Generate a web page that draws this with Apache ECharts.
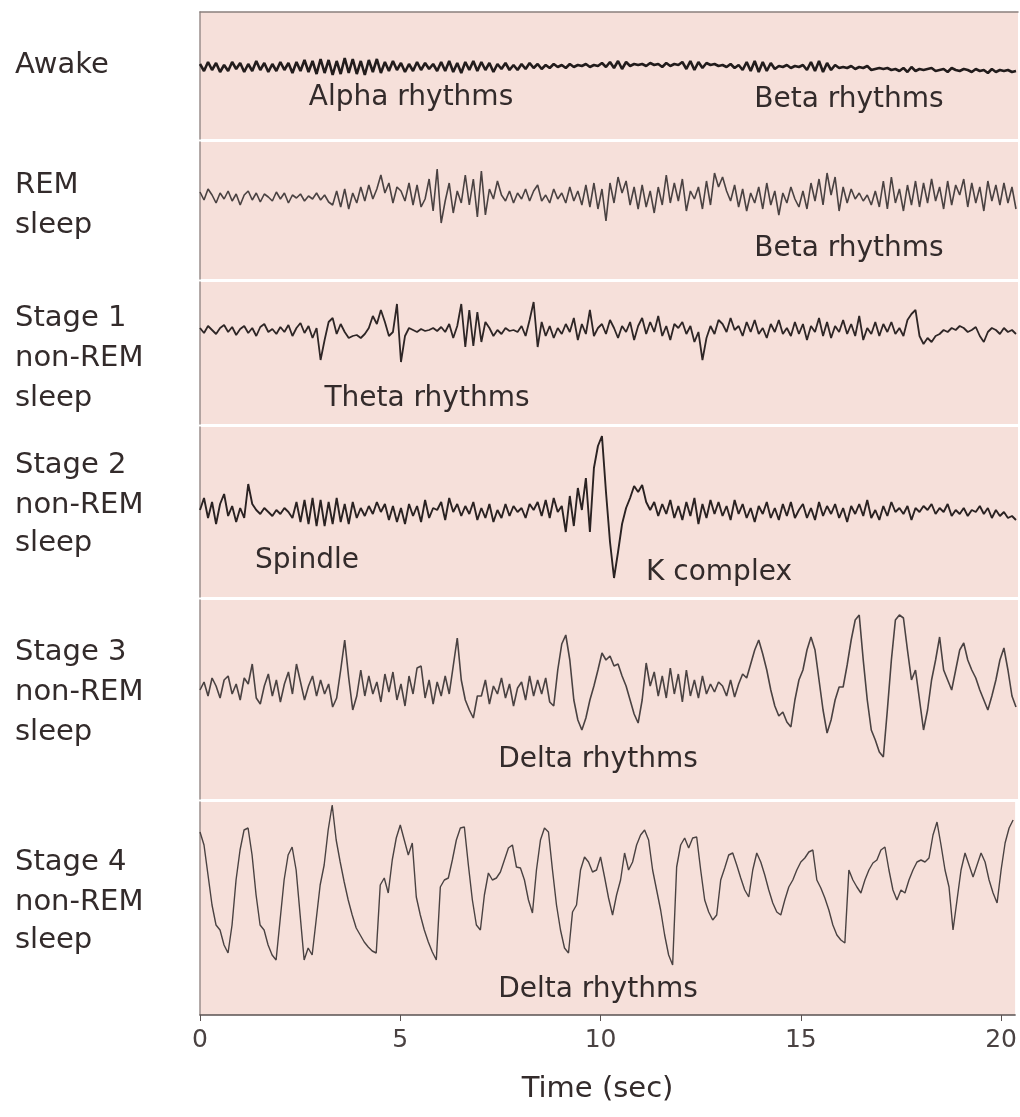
<!DOCTYPE html>
<html><head><meta charset="utf-8">
<script src="https://cdn.jsdelivr.net/npm/echarts@6/dist/echarts.min.js"></script>
<style>html,body{margin:0;padding:0;background:#fff}#c{width:1020px;height:1117px}</style>
</head><body><div id="c"></div>
<script>
// sampling step of the traces (seconds)
const DT = 0.1;
const xTicks = [0, 5, 10, 15, 20];

// EEG traces, amplitude (arbitrary units, + is up)
const awake = [
 3,-4,5,-3,4,-5,2,-4,5,-2,
 4,-5,3,-4,6,-3,4,-5,3,-4,
 5,-3,4,-6,5,-4,7,-5,6,-7,
 8,-6,7,-8,6,-7,9,-6,8,-7,
 6,-8,7,-5,8,-6,5,-4,6,-3,
 4,-5,3,-4,5,-3,4,-2,3,-4,
 5,-4,6,-5,4,-6,5,-3,6,-4,
 5,-3,4,-5,3,-2,4,-3,2,-3,
 3,-2,4,-1,3,-2,2,-1,3,0,
 2,-1,3,0,2,1,3,0,2,1,
 4,0,5,-1,6,-2,5,1,3,2,
 3,1,4,2,3,0,4,1,3,2,
 5,-2,6,-3,5,-1,4,2,3,1,
 2,0,3,-1,2,-3,5,-4,6,-5,
 5,-4,4,-2,1,0,2,-1,1,0,
 2,-3,5,-4,6,-5,4,-3,2,-1,
 0,-1,1,-2,0,-1,1,-3,-2,-1,
 -2,-1,-3,-2,-4,-1,-5,0,-4,-2,
 -3,-2,-1,-4,-3,-2,-5,-1,-3,-4,
 -2,-3,-5,-2,-4,-3,-6,-2,-5,-3,
 -4,-3,-5,-4
];
const rem = [
 5,-3,8,2,-6,4,-2,6,-4,3,
 -8,2,6,-3,4,-5,3,0,-4,5,
 -2,4,-6,2,-1,3,-4,1,-2,4,
 -3,2,-5,-8,6,-10,8,-12,4,-6,
 10,-4,12,-2,8,22,4,14,-6,10,
 6,-4,14,-8,12,-10,-2,18,-14,28,
 -26,-4,14,-16,6,-6,22,-8,18,-20,
 26,-18,8,-2,16,2,-4,6,-6,4,
 -2,8,-4,6,12,-4,2,-6,8,-2,
 4,-6,10,-4,6,-8,12,-10,14,-12,
 8,-24,14,-6,20,4,16,-8,10,-12,
 12,-10,6,-16,10,-8,22,-6,14,-4,
 18,-14,6,-2,10,-12,16,-8,24,10,
 20,6,-4,12,-10,8,-14,4,-6,10,
 -12,14,-8,6,-18,4,-6,10,-2,-10,
 6,-12,14,-4,18,-8,24,2,20,-14,
 10,-6,8,-2,4,-4,2,-8,6,-10,
 16,-12,20,-6,8,-14,12,-8,16,-10,
 14,-6,18,-4,10,-12,16,-8,12,2,
 18,-10,14,-6,10,-14,16,-4,12,-8,
 14,-6,10,-12
];
const stage1 = [
 2,-3,4,0,-4,2,5,-2,3,-5,
 1,4,-3,2,-6,3,6,-2,1,-4,
 3,-2,5,-6,2,7,-3,4,-8,2,
 -30,-10,8,12,-4,6,-2,-8,-6,-5,
 -8,-4,2,14,6,20,8,-6,-2,26,
 -32,-6,2,0,-2,1,-1,0,2,-1,
 3,-2,6,-8,4,26,-17,20,-16,18,
 -12,8,2,-6,0,-4,2,-1,0,-2,
 4,-6,10,28,-17,8,-6,4,-8,2,
 -4,6,-2,12,-10,6,-4,20,-6,2,
 6,-4,10,2,-8,4,-2,8,-10,4,
 12,-4,8,-2,14,-6,4,-10,6,2,
 8,-4,4,-12,-2,-30,-8,4,-4,10,
 6,-2,12,0,4,-6,8,-2,10,-4,
 2,-8,6,-2,10,-4,2,-6,8,-4,
 6,-10,4,-2,12,-6,8,-8,4,-2,
 10,-4,6,-6,14,-10,2,-4,8,-6,
 6,-2,8,-4,2,-6,10,16,20,-6,
 -14,-8,-12,-6,-4,0,-2,2,0,4,
 2,-2,0,3,-6,-12,-2,2,0,-4,
 2,-2,0,-4
];
const stage2 = [
 2,14,-6,10,-12,8,18,-4,6,-10,
 4,-6,28,8,2,-2,4,0,-4,2,
 -2,4,0,-6,10,-10,12,-12,14,-14,
 12,-14,10,-12,14,-10,8,-12,10,-6,
 4,-4,6,-2,10,0,8,-8,6,-10,
 4,-12,8,-4,6,-10,12,-6,4,2,
 10,-8,14,0,8,-4,6,-2,10,-8,
 4,-6,8,-10,2,-6,8,-4,6,0,
 4,-6,8,2,10,-4,12,-6,14,0,
 6,-20,16,-14,24,2,34,-20,44,66,
 76,20,-30,-66,-40,-12,4,14,26,20,
 27,10,2,10,-4,8,-2,12,-6,6,
 -8,10,-4,14,-12,8,-6,12,-2,10,
 -4,6,-8,12,-2,8,-6,4,-10,6,
 -2,10,-6,4,-8,8,-4,10,-6,2,
 8,-6,4,-8,10,-4,6,-2,8,-6,
 4,-10,6,-2,8,-4,12,-6,2,-8,
 6,-4,10,0,4,-2,6,-8,4,0,
 6,2,8,-2,4,0,8,-4,2,-2,
 4,-4,2,0,6,-2,4,-6,2,-4,
 0,-6,-4,-8
];
const stage3 = [
 0,8,-6,12,4,-8,10,14,-4,6,
 -10,12,6,26,-8,-14,4,16,-6,10,
 -12,6,18,-4,26,8,-10,4,14,-6,
 10,-4,6,-17,-8,20,50,12,-20,-6,
 20,-6,14,-4,8,-12,16,-2,18,-10,
 6,-16,14,-4,22,24,-8,10,-14,8,
 -6,14,-4,24,52,10,-10,-20,-28,-6,
 -6,10,-14,4,-4,12,-8,6,-16,2,
 8,-10,14,-6,10,-4,12,-12,-16,20,
 46,55,30,-10,-30,-40,-28,-10,4,20,
 37,30,34,24,26,14,4,-10,-24,-33,
 -10,27,4,18,-6,14,-8,22,-4,16,
 -12,20,-6,10,-8,14,-4,6,-2,8,
 4,-6,10,-7,6,16,12,26,40,50,
 36,20,0,-16,-26,-22,-32,-37,-10,10,
 20,40,53,40,10,-20,-43,-30,-10,3,
 3,25,50,70,75,30,-10,-40,-50,-62,
 -67,-20,30,70,75,72,40,10,20,-10,
 -40,-20,10,30,53,20,10,0,20,40,
 47,30,20,12,0,-10,-20,-6,10,30,
 42,20,-6,-17
];
const stage4 = [
 58,45,15,-15,-35,-40,-55,-63,-35,10,
 40,60,62,35,-5,-35,-40,-55,-65,-70,
 -30,10,35,43,20,-25,-70,-58,-65,-30,
 5,25,60,85,50,28,8,-10,-25,-38,
 -45,-52,-57,-61,-63,5,12,-3,30,52,
 65,50,35,47,-7,-25,-40,-52,-62,-70,
 3,10,12,30,50,62,63,25,-10,-35,
 -40,-5,17,10,12,18,30,42,45,23,
 22,10,-10,-23,20,50,62,58,20,-15,
 -40,-58,-63,-22,-15,20,33,28,18,20,
 33,13,-8,-25,-5,10,37,20,28,45,
 55,60,50,20,0,-20,-45,-65,-75,23,
 45,52,42,52,53,20,-10,-22,-30,-25,
 10,22,35,37,25,12,0,-7,20,37,
 28,15,0,-13,-22,-25,-10,3,10,20,
 28,32,38,40,10,2,-8,-20,-35,-45,
 -50,-53,20,10,3,-3,10,20,27,30,
 40,43,20,0,-10,0,-3,10,20,28,
 30,28,32,55,68,45,20,3,-40,-10,
 20,37,25,13,25,37,28,10,-3,-13,
 20,47,62,70
];

const stageLabels = [
 ['Awake'],
 ['REM', 'sleep'],
 ['Stage 1', 'non-REM', 'sleep'],
 ['Stage 2', 'non-REM', 'sleep'],
 ['Stage 3', 'non-REM', 'sleep'],
 ['Stage 4', 'non-REM', 'sleep']
];
const annotations = ['Alpha rhythms', 'Beta rhythms', 'Beta rhythms', 'Theta rhythms',
  'Spindle', 'K complex', 'Delta rhythms', 'Delta rhythms'];

// ---------- layout ----------
const FONT = '"DejaVu Sans", sans-serif';
const TXT = '#332b2b';
const PINK = '#f6e0da';
const panels = [
  {data: awake,  top: 12,  height: 127, max: 55, color: '#221c1c', width: 2.6},
  {data: rem,    top: 142, height: 137, max: 55, color: '#4a4242', width: 1.6},
  {data: stage1, top: 282, height: 142, max: 48, color: '#2e2626', width: 1.8},
  {data: stage2, top: 427, height: 170, max: 85, color: '#2a2222', width: 1.9},
  {data: stage3, top: 600, height: 199, max: 90, color: '#4a4242', width: 1.6},
  {data: stage4, top: 802, height: 213, max: 88, color: '#4a4242', width: 1.4}
];
const labelLayout = [[65], [185, 225], [318, 358, 398], [465, 505, 543], [652, 692, 732], [862, 902, 940]];
const annLayout = [[411, 98], [849, 100], [849, 249], [427, 399], [307, 561], [719, 573], [598, 760], [598, 990]];

const XMAX = 20.35;
const grids = [], xAxes = [], yAxes = [], series = [];
panels.forEach((p, i) => {
  grids.push({left: 200, right: 2, top: p.top, height: p.height, show: true,
    backgroundColor: PINK, borderWidth: 0, containLabel: false});
  const last = i === panels.length - 1;
  if (last) {
    xAxes.push({gridIndex: i, type: 'value', min: 0, max: XMAX, interval: 5, position: 'bottom',
      axisLine: {show: true, onZero: false, lineStyle: {color: '#5a5252', width: 1.5}},
      axisTick: {show: true, length: 6, customValues: xTicks, lineStyle: {color: '#5a5252'}},
      axisLabel: {customValues: xTicks, fontSize: 25, color: '#4a4242', fontFamily: FONT, margin: 13},
      splitLine: {show: false},
      name: 'Time (sec)', nameLocation: 'middle', nameGap: 60,
      nameTextStyle: {fontSize: 29, color: TXT, fontFamily: FONT, padding: [0, 20, 0, 0]}});
  } else if (i === 0) {
    xAxes.push({gridIndex: i, type: 'value', min: 0, max: XMAX, position: 'top',
      axisLine: {show: true, onZero: false, lineStyle: {color: '#8a807d', width: 1.5}},
      axisTick: {show: false}, axisLabel: {show: false}, splitLine: {show: false}});
  } else {
    xAxes.push({gridIndex: i, type: 'value', min: 0, max: XMAX, show: false, splitLine: {show: false}});
  }
  yAxes.push({gridIndex: i, type: 'value', min: p.max - p.height, max: p.max,
    axisLine: {show: true, onZero: false, lineStyle: {color: '#9a8e8b', width: 1.5}},
    axisTick: {show: false}, axisLabel: {show: false}, splitLine: {show: false}});
  series.push({type: 'line', xAxisIndex: i, yAxisIndex: i, showSymbol: false,
    data: p.data.map((v, k) => [+(k * DT).toFixed(2), v]),
    lineStyle: {color: p.color, width: p.width}, silent: true, animation: false});
});

const graphics = [];
stageLabels.forEach((lines, i) => {
  lines.forEach((t, j) => {
    graphics.push({type: 'text', x: 15, y: labelLayout[i][j],
      style: {text: t, font: '29px ' + FONT, fill: TXT, textAlign: 'left', textVerticalAlign: 'middle'}});
  });
});
annotations.forEach((t, i) => {
  graphics.push({type: 'text', x: annLayout[i][0], y: annLayout[i][1],
    style: {text: t, font: '28px ' + FONT, fill: TXT, textAlign: 'center', textVerticalAlign: 'middle'}});
});

const chart = echarts.init(document.getElementById('c'), null, {renderer: 'canvas'});
chart.setOption({
  backgroundColor: '#ffffff',
  animation: false,
  grid: grids, xAxis: xAxes, yAxis: yAxes, series: series,
  graphic: graphics
});
</script></body></html>
